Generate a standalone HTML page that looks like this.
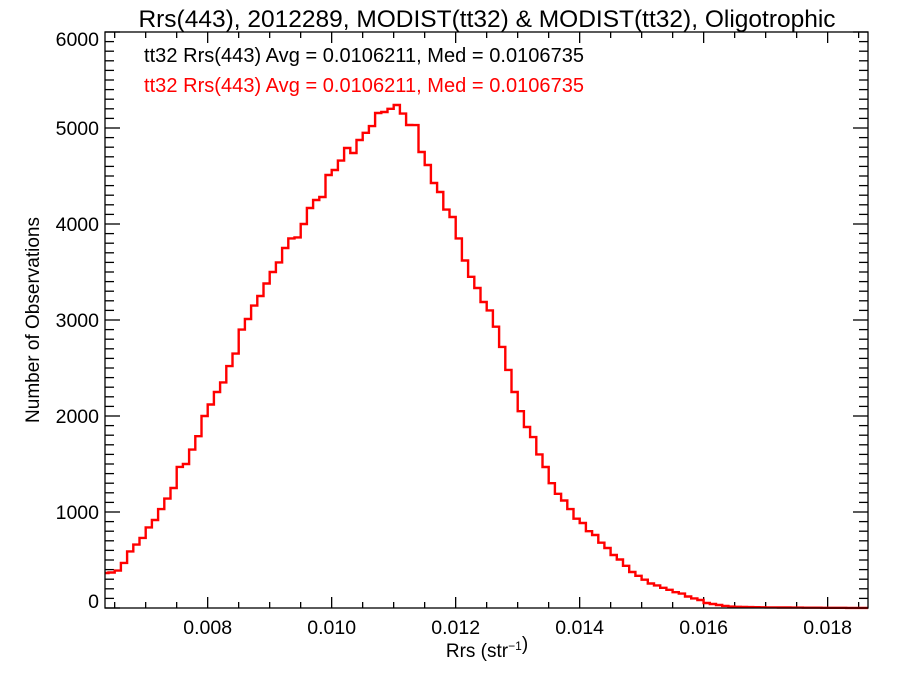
<!DOCTYPE html>
<html><head><meta charset="utf-8"><style>
body{margin:0;background:#fff}
svg{display:block;font-family:"Liberation Sans",Arial,sans-serif}
</style></head><body>
<svg id="chart" width="900" height="675" viewBox="0 0 900 675">
<rect width="900" height="675" fill="#fff"/>
<text x="487" y="27" font-size="24.5" text-anchor="middle">Rrs(443), 2012289, MODIST(tt32) &amp; MODIST(tt32), Oligotrophic</text>
<text x="144" y="62" font-size="20" fill="#000" textLength="440">tt32 Rrs(443) Avg = 0.0106211, Med = 0.0106735</text>
<text x="144" y="92" font-size="20" fill="#ff0000" textLength="440">tt32 Rrs(443) Avg = 0.0106211, Med = 0.0106735</text>
<g id="axes"></g>
<path id="hist" fill="none" stroke="#ff0000" stroke-width="2.4"/>
<rect x="105" y="32" width="763" height="576" fill="none" stroke="#000" stroke-width="1.3"/>
<text x="487" y="657" font-size="19" text-anchor="middle">Rrs (str<tspan dy="-7" font-size="12">−1</tspan>)</text>
<text x="0" y="0" font-size="19" text-anchor="middle" transform="translate(39,320) rotate(-90)">Number of Observations</text>
</svg>
<script>
const binStart = 0.0063;
const binWidth = 0.0001;
const counts = [365,370,390,470,590,660,730,840,917,1030,1140,1250,1470,1500,1650,1790,2000,2120,2250,2350,2520,2650,2900,3010,3150,3250,3380,3500,3600,3750,3850,3860,4000,4167,4250,4281,4510,4562,4660,4792,4740,4875,4950,5020,5156,5167,5200,5240,5150,5031,5030,4750,4615,4427,4333,4150,4073,3850,3620,3450,3333,3188,3100,2930,2720,2480,2250,2050,1885,1780,1600,1469,1300,1190,1120,1030,930,885,800,760,680,625,552,505,440,375,335,295,255,235,210,190,165,150,120,100,83,52,42,31,22,15,12,10,9,8,7,6,6,5,5,4,4,3,3,3,2,2,2,2,1,1,1,1];
const xTicks = [0.008,0.010,0.012,0.014,0.016,0.018];
const xTickLabels = ["0.008","0.010","0.012","0.014","0.016","0.018"];
const yTicks = [0,1000,2000,3000,4000,5000,6000];
const yTickLabels = ["0","1000","2000","3000","4000","5000","6000"];
const X0=105,X1=868,Y0=608,Y1=32;
const xMin=0.006344,xMax=0.018651,yMin=0,yMax=6000;
function sx(v){return X0+(v-xMin)/(xMax-xMin)*(X1-X0);}
function sy(v){return Y0-(v-yMin)/(yMax-yMin)*(Y0-Y1);}
const NS="http://www.w3.org/2000/svg";
const ax=document.getElementById('axes');
function line(x1,y1,x2,y2,name){const l=document.createElementNS(NS,'line');
l.setAttribute('x1',x1);l.setAttribute('y1',y1);l.setAttribute('x2',x2);l.setAttribute('y2',y2);
l.setAttribute('stroke','#000');l.setAttribute('stroke-width','1.3');


ax.appendChild(l);}
function text(x,y,s,anchor,name){const t=document.createElementNS(NS,'text');
t.setAttribute('x',x);t.setAttribute('y',y);t.setAttribute('font-size','19.5');t.setAttribute('text-anchor',anchor);t.textContent=s;


ax.appendChild(t);}
for(let v=0.0065;v<=xMax+1e-9;v+=0.0005){const x=sx(v);
 const major=xTicks.some(t=>Math.abs(t-v)<1e-7);const L=major?11:6;
 line(x,Y0,x,Y0-L,'x-tick');line(x,Y1,x,Y1+L,'x-tick-top');}
xTicks.forEach((v,i)=>text(sx(v),634,xTickLabels[i],'middle','x-tick-label'));
for(let v=0;v<=yMax;v+=100){const y=sy(v);const major=v%1000===0;const L=major?15:9;
 line(X0,y,X0+L,y,'y-tick');line(X1,y,X1-L,y,'y-tick-right');}
yTicks.forEach((v,i)=>{let y=sy(v)+7;if(v===0)y=sy(v);if(v===6000)y=sy(v)+14;text(99,y,yTickLabels[i],'end','y-tick-label');});
let d='';
counts.forEach((c,i)=>{let a=sx(binStart+i*binWidth),b=sx(binStart+(i+1)*binWidth);
 a=Math.max(a,X0);b=Math.min(b,X1);const y=sy(c);
 d+=(i===0?'M':'L')+a.toFixed(1)+','+y.toFixed(1)+'L'+b.toFixed(1)+','+y.toFixed(1);});
document.getElementById('hist').setAttribute('d',d);
</script>
</body></html>
